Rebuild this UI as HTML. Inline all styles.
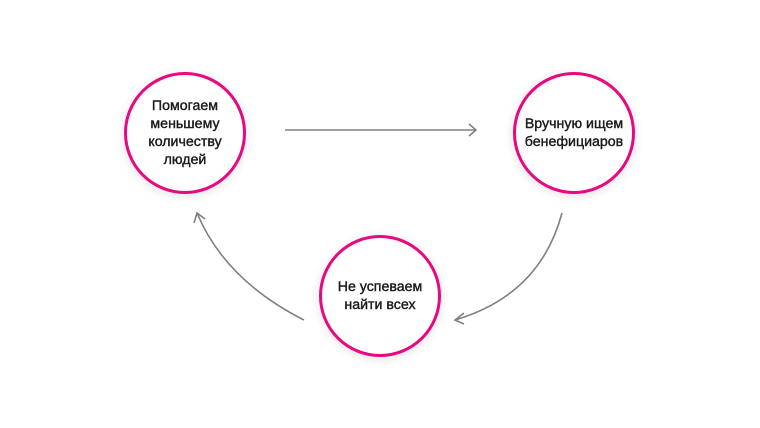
<!DOCTYPE html>
<html><head><meta charset="utf-8"><style>
html,body{margin:0;padding:0;background:#fff;}
body{width:760px;height:428px;position:relative;overflow:hidden;font-family:"Liberation Sans","DejaVu Sans",sans-serif;}
.c{position:absolute;width:116px;height:116px;border:3px solid #e8087f;border-radius:50%;background:#fff;box-shadow:0 2px 10px rgba(0,0,0,0.12);display:flex;align-items:center;justify-content:center;text-align:center;font-size:14.2px;line-height:18px;color:#1a1a1a;-webkit-text-stroke:0.4px #1a1a1a;}
svg{position:absolute;left:0;top:0;}
</style></head><body>
<svg width="760" height="428" viewBox="0 0 760 428" fill="none" stroke="#808080" stroke-width="1.6">
<line x1="285" y1="130" x2="476" y2="130"/>
<polyline points="469,124 476,130 469,136"/>
<path d="M304,320 Q225,280 197,213"/>
<polyline points="194,223 197,213 205,219"/>
<path d="M562,213 Q540,295 455,320"/>
<polyline points="464,313 455,320 464,324"/>
</svg>
<div class="c" style="left:124px;top:72px;">Помогаем<br>меньшему<br>количеству<br>людей</div>
<div class="c" style="left:513px;top:72px;">Вручную ищем<br>бенефициаров</div>
<div class="c" style="left:319px;top:235px;">Не успеваем<br>найти всех</div>
</body></html>
